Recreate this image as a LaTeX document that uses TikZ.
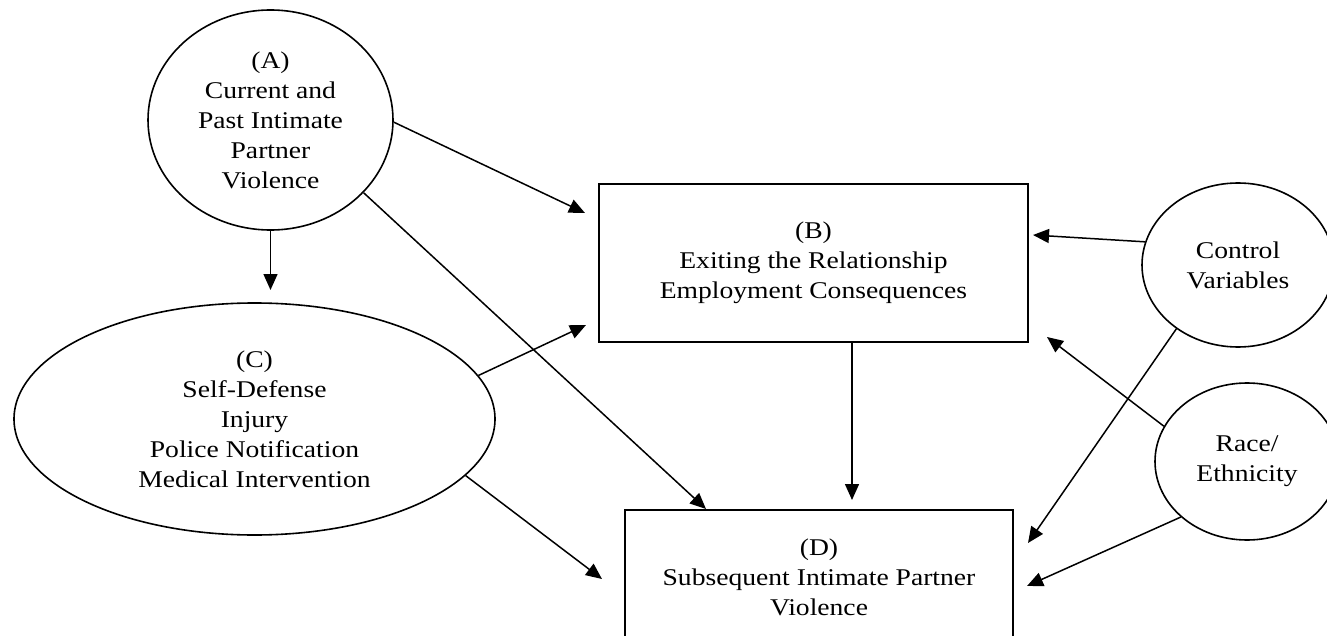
\documentclass[tikz,border=0pt]{standalone}
\usepackage{fontspec}
\setmainfont[FakeStretch=1.15]{Liberation Serif}
\usetikzlibrary{shapes.geometric,arrows.meta,calc}
\begin{document}
\begin{tikzpicture}[x=1pt,y=-1pt,
  every node/.style={font=\fontsize{24}{30}\selectfont, align=center, inner sep=0pt},
  ell/.style={draw, ellipse, line width=1.6pt},
  bx/.style={draw, rectangle, line width=1.7pt},
  arr/.style={line width=1.5pt, -{Triangle[length=16pt,width=14pt]}}]
\useasboundingbox (0,0) rectangle (1327,636);
\clip (0,0) rectangle (1327,636);
% nodes
\node[ell, minimum width=245pt, minimum height=220pt] (A) at (270.5,120)
  {(A)\\Current and\\Past Intimate\\Partner\\Violence};
\node[ell, minimum width=481pt, minimum height=232pt] (C) at (254.5,419)
  {(C)\\Self-Defense\\Injury\\Police Notification\\Medical Intervention};
\node[bx, minimum width=429pt, minimum height=158pt] (B) at (813.5,263)
  {(B)\\Exiting the Relationship\\Employment Consequences};
\node[bx, minimum width=388pt, minimum height=134pt] (D) at (819,577)
  {(D)\\Subsequent Intimate Partner\\Violence};
\node[ell, minimum width=192pt, minimum height=164pt] (K) at (1238,265)
  {Control\\Variables};
\node[ell, minimum width=184pt, minimum height=157pt] (R) at (1247,461.5)
  {Race/\\Ethnicity};
% arrow tips
\coordinate (tAB) at (585,213);
\coordinate (tAD) at (706,509);
\coordinate (tAC) at (270.5,290);
\coordinate (tCB) at (586,325);
\coordinate (tCD) at (602,579);
\coordinate (tBD) at (852,500);
\coordinate (tKB) at (1033,235);
\coordinate (tKD) at (1028,543);
\coordinate (tRB) at (1047,337);
\coordinate (tRD) at (1027,586);
% connectors
\draw[arr] (A.-1) -- (tAB);
\draw[arr] (A.-38) -- (tAD);
\draw[arr] (A.south) -- (tAC);
\draw[arr] (C.11) -- (tCB);
\draw[arr] (C.-15.5) -- (tCD);
\draw[arr] (B.south -| tBD) -- (tBD);
\draw[arr] (K.166) -- (tKB);
\draw[arr] (K.226) -- (tKD);
\draw[arr] (R.157) -- (tRB);
\draw[arr] (R.220) -- (tRD);
\end{tikzpicture}
\end{document}
